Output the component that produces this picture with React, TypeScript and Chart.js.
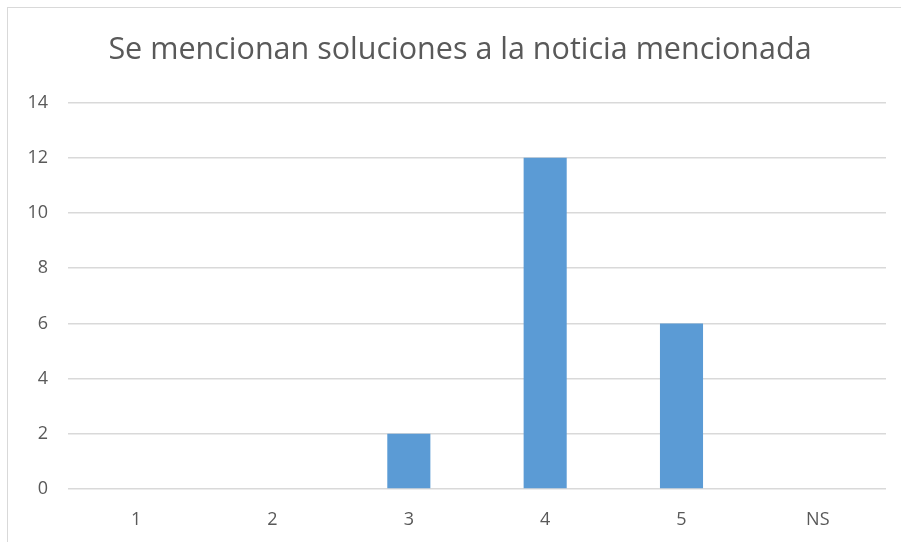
import React, { useEffect, useRef } from "react";
import { Chart, registerables } from "chart.js";

Chart.register(...registerables);

const title = "Se mencionan soluciones a la noticia mencionada";
const categories = ["1", "2", "3", "4", "5", "NS"];
const values = [0, 0, 2, 12, 6, 0];
const yMin = 0;
const yMax = 14;
const yStep = 2;

const titleShift = {
  id: "titleShift",
  afterLayout(chart: any) {
    const t = chart.titleBlock;
    if (t) {
      t.left += 34;
    }
  },
};

export default function App() {
  const ref = useRef<HTMLCanvasElement>(null);
  useEffect(() => {
    if (!ref.current) return;
    const chart = new Chart(ref.current, {
      type: "bar",
      data: {
        labels: categories,
        datasets: [
          {
            data: values,
            backgroundColor: "#5B9BD5",
            borderWidth: 0,
            barPercentage: 0.316,
            categoryPercentage: 1,
          },
        ],
      },
      plugins: [titleShift],
      options: {
        animation: false,
        responsive: false,
        maintainAspectRatio: false,
        layout: { padding: { left: 0, right: 34, top: 0, bottom: 0 } },
        plugins: {
          legend: { display: false },
          tooltip: { enabled: false },
          title: {
            display: true,
            text: title,
            color: "#595959",
            font: { family: "'Open Sans', sans-serif", size: 30.5, weight: "normal" },
            padding: { top: 32, bottom: 34 },
          },
        },
        scales: {
          x: {
            grid: { display: false, drawTicks: false },
            border: { display: false },
            ticks: {
              color: "#595959",
              font: { family: "'Open Sans', sans-serif", size: 18 },
              padding: 20,
              maxRotation: 0,
            },
            afterFit: (s: any) => {
              s.height = 53;
            },
          },
          y: {
            min: yMin,
            max: yMax,
            grid: { color: "#d9d9d9", lineWidth: 1.5, drawTicks: false },
            border: { display: false },
            ticks: {
              stepSize: yStep,
              color: "#595959",
              font: { family: "'Open Sans', sans-serif", size: 18 },
              padding: 20,
            },
            afterFit: (s: any) => {
              s.width = 68;
            },
          },
        },
      },
    });
    return () => chart.destroy();
  }, []);
  return (
    <div
      style={{
        position: "fixed",
        left: 0,
        top: 0,
        width: 901,
        height: 542,
        overflow: "hidden",
        background: "#fff",
      }}
    >
      <div
        style={{
          position: "absolute",
          left: 7,
          top: 7,
          width: 1000,
          height: 1000,
          border: "1.5px solid #d9d9d9",
        }}
      />
      <canvas
        ref={ref}
        width={920}
        height={542}
        style={{ position: "absolute", left: 0, top: 0 }}
      />
    </div>
  );
}
